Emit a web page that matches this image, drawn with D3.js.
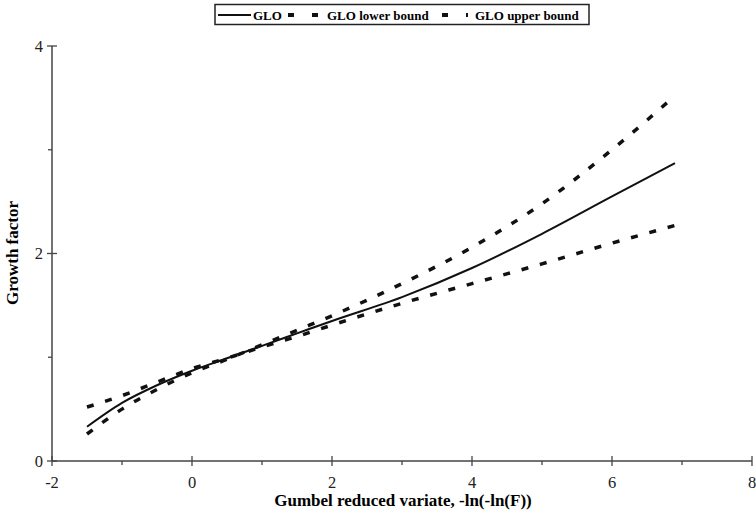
<!DOCTYPE html>
<html>
<head>
<meta charset="utf-8">
<script src="https://cdn.jsdelivr.net/npm/d3@7"></script>
<style>
  body { margin: 0; background: #fff; }
  svg { display: block; }
  text { font-family: "Liberation Serif", "DejaVu Serif", "Times New Roman", serif; }
</style>
</head>
<body>
<svg id="chart"></svg>
<script>
// values
var xValues   = [-1.5, -1, -0.5, 0, 0.5, 1, 1.5, 2, 3, 4, 5, 6, 6.9];
var gloValues = [0.33, 0.56, 0.73, 0.87, 0.99, 1.11, 1.23, 1.35, 1.58, 1.86, 2.19, 2.55, 2.87];
var lowerValues = [0.52, 0.63, 0.76, 0.89, 0.99, 1.10, 1.20, 1.31, 1.52, 1.71, 1.90, 2.10, 2.27];
var upperValues = [0.26, 0.50, 0.69, 0.85, 0.98, 1.12, 1.26, 1.40, 1.71, 2.06, 2.48, 3.00, 3.52];
var seriesNames = ["GLO", "GLO lower bound", "GLO upper bound"];
var xTicks = [-2, 0, 2, 4, 6, 8];
var xMinor = [-1, 1, 3, 5, 7];
var yTicks = [0, 2, 4];
var yMinor = [1, 3];

drawChart();

function drawChart(){
    var svgWidth = 756, svgHeight = 519;
    var margin = {top: 46, right: 4, bottom: 58, left: 52};
    var width = svgWidth - margin.left - margin.right;   // 700
    var height = svgHeight - margin.top - margin.bottom; // 415
    var serif = '"Liberation Serif", "DejaVu Serif", serif';

    var svg = d3.select('#chart')
                .attr('width', svgWidth)
                .attr('height', svgHeight)
                .attr('font-family', serif);

    var chart = svg.append('g')
                .attr('transform', 'translate(' + margin.left + ',' + margin.top + ')');

    var x = d3.scaleLinear().domain([-2, 8]).range([0, width]);
    var y = d3.scaleLinear().domain([0, 4]).range([height, 0]);

    var axisColor = '#444';

    // x axis
    var xAxis = chart.append('g')
                .attr('transform', 'translate(0,' + height + ')');
    xAxis.append('line')
        .attr('x1', 0).attr('x2', width)
        .attr('stroke', axisColor).attr('stroke-width', 1.5);
    xAxis.selectAll('.major').data(xTicks).enter().append('line')
        .attr('x1', function(d){ return x(d); }).attr('x2', function(d){ return x(d); })
        .attr('y1', -5).attr('y2', 5)
        .attr('stroke', axisColor).attr('stroke-width', 1.3);
    xAxis.selectAll('.minor').data(xMinor).enter().append('line')
        .attr('x1', function(d){ return x(d); }).attr('x2', function(d){ return x(d); })
        .attr('y1', 0).attr('y2', 4)
        .attr('stroke', axisColor).attr('stroke-width', 1.3);
    xAxis.selectAll('.lbl').data(xTicks).enter().append('text')
        .attr('x', function(d){ return x(d); })
        .attr('y', 27)
        .attr('text-anchor', 'middle')
        .attr('font-family', serif)
        .style('font-size', '16.5px')
        .attr('fill', '#222')
        .text(function(d){ return d; });

    // y axis
    var yAxis = chart.append('g');
    yAxis.append('line')
        .attr('y1', 0).attr('y2', height)
        .attr('stroke', axisColor).attr('stroke-width', 1.5);
    yAxis.selectAll('.major').data(yTicks).enter().append('line')
        .attr('y1', function(d){ return y(d); }).attr('y2', function(d){ return y(d); })
        .attr('x1', -5).attr('x2', 5)
        .attr('stroke', axisColor).attr('stroke-width', 1.3);
    yAxis.selectAll('.minor').data(yMinor).enter().append('line')
        .attr('y1', function(d){ return y(d); }).attr('y2', function(d){ return y(d); })
        .attr('x1', -4).attr('x2', 0)
        .attr('stroke', axisColor).attr('stroke-width', 1.3);
    yAxis.selectAll('.lbl').data(yTicks).enter().append('text')
        .attr('x', -9)
        .attr('y', function(d){ return y(d); })
        .attr('dy', '0.35em')
        .attr('text-anchor', 'end')
        .attr('font-family', serif)
        .style('font-size', '16.5px')
        .attr('fill', '#222')
        .text(function(d){ return d; });

    // axis titles
    svg.append('text')
        .attr('x', 403).attr('y', 506)
        .attr('text-anchor', 'middle')
        .attr('font-family', serif)
        .style('font-size', '17px').style('font-weight', 'bold')
        .text('Gumbel reduced variate, -ln(-ln(F))');
    svg.append('text')
        .attr('transform', 'translate(18,253) rotate(-90)')
        .attr('text-anchor', 'middle')
        .attr('font-family', serif)
        .style('font-size', '17px').style('font-weight', 'bold')
        .text('Growth factor');

    // curves
    var series = [
        {name: seriesNames[0], values: gloValues, dash: null, w: 2},
        {name: seriesNames[1], values: lowerValues, dash: '7,12', w: 3.5},
        {name: seriesNames[2], values: upperValues, dash: '7,12', w: 3.5}
    ];
    var line = d3.line()
        .curve(d3.curveMonotoneX)
        .x(function(d){ return x(d[0]); })
        .y(function(d){ return y(d[1]); });

    chart.selectAll('.curve').data(series).enter().append('path')
        .attr('class', 'curve')
        .attr('d', function(s){ return line(xValues.map(function(v, i){ return [v, s.values[i]]; })); })
        .attr('fill', 'none')
        .attr('stroke', '#111')
        .attr('stroke-width', function(s){ return s.w; })
        .attr('stroke-dasharray', function(s){ return s.dash; });

    // legend
    var legend = svg.append('g');
    legend.append('rect')
        .attr('x', 215).attr('y', 4.5)
        .attr('width', 374).attr('height', 20)
        .attr('fill', 'none').attr('stroke', '#222').attr('stroke-width', 1.5);
    var items = [
        {s: series[0], x0: 218, x1: 251, tx: 253},
        {s: series[1], x0: 288, x1: 318, tx: 327},
        {s: series[2], x0: 442, x1: 468, tx: 475}
    ];
    items.forEach(function(it){
        legend.append('line')
            .attr('x1', it.x0).attr('x2', it.x1)
            .attr('y1', 15).attr('y2', 15)
            .attr('stroke', '#111')
            .attr('stroke-width', it.s.dash ? 4 : 2)
            .attr('stroke-dasharray', it.s.dash ? '6,18' : null);
        legend.append('text')
            .attr('x', it.tx).attr('y', 19.5)
            .attr('font-family', serif)
            .style('font-size', '13px').style('font-weight', 'bold')
            .text(it.s.name);
    });
}
</script>
</body>
</html>
